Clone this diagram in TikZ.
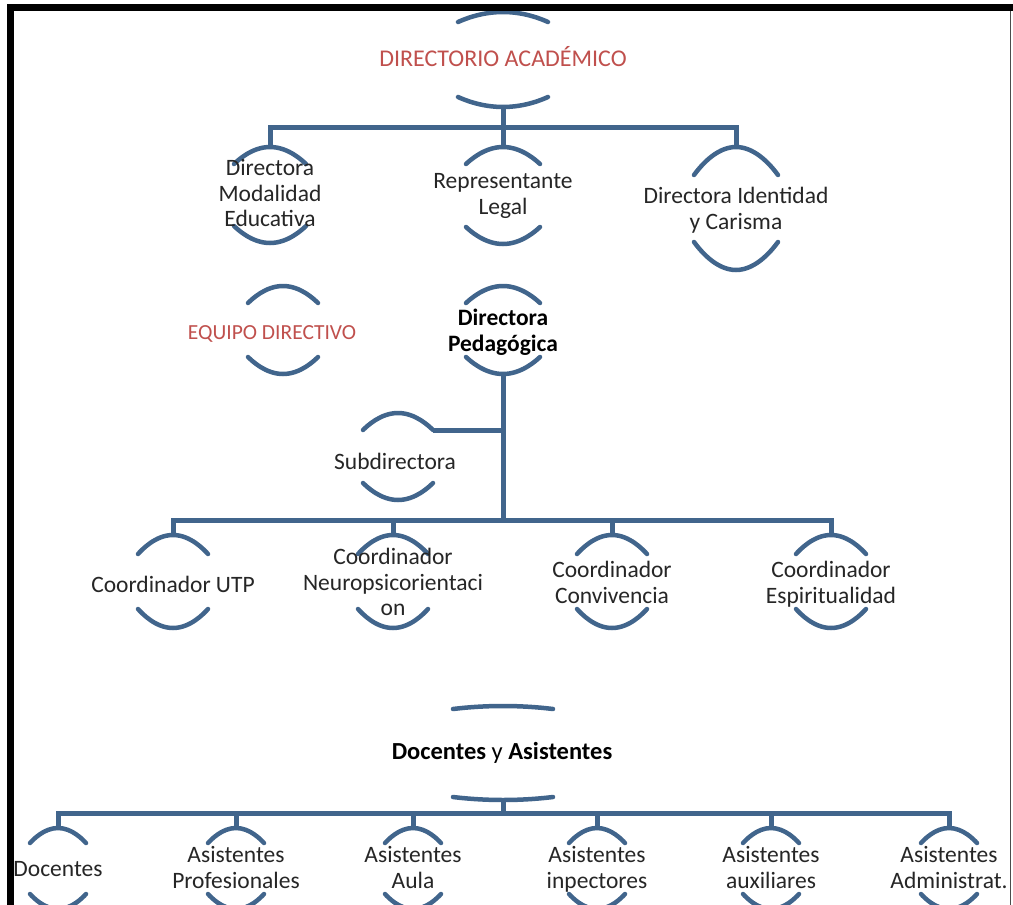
\documentclass[tikz,border=0pt]{standalone}
\usepackage{fontspec}
\setmainfont{Carlito}
\definecolor{linec}{RGB}{65,101,140}
\definecolor{redt}{RGB}{192,80,77}
\definecolor{txt}{RGB}{38,38,38}
\newcommand\nodearcs[6]{% name, x, ytop, ybot, halfwidth, sag
  \coordinate (#1t) at (#2,#3);
  \coordinate (#1b) at (#2,#4);
  \draw[arcline] ([shift={(-#5,#6)}]#1t) parabola bend (#1t) ([shift={(#5,#6)}]#1t);
  \draw[arcline] ([shift={(-#5,-#6)}]#1b) parabola bend (#1b) ([shift={(#5,-#6)}]#1b);
}
\tikzset{
  arcline/.style={draw=linec, line width=4.5pt, line cap=round},
  conn/.style={draw=linec, line width=5pt, line join=miter},
  lbl/.style={align=center, inner sep=0pt, text=txt, font=\fontsize{23.5}{25.5}\selectfont,
    execute at begin node=\strut, execute at end node=\strut},
  redlbl/.style={lbl, text=redt},
  boldlbl/.style={lbl, text=black, font=\fontsize{23.5}{25.5}\selectfont\bfseries},
}
\begin{document}
\begin{tikzpicture}[x=1pt,y=-1pt]
\useasboundingbox (0,0) rectangle (1013,905);
\fill[white] (0,0) rectangle (1013,905);

% arcs of each member
\nodearcs{dir}{503}{12}{107}{45}{10}
\nodearcs{mod}{270}{147}{243}{36}{17}
\nodearcs{rep}{503}{147}{244}{37}{17}
\nodearcs{ide}{736}{147}{270}{42}{28}
\nodearcs{equ}{283}{286}{374}{35}{17}
\nodearcs{ped}{503}{286}{374}{37}{17}
\nodearcs{sub}{398}{413}{500}{35}{17}
\nodearcs{utp}{173}{535}{628}{35}{19}
\nodearcs{neu}{393}{535}{628}{35}{19}
\nodearcs{con}{612}{535}{628}{35}{19}
\nodearcs{esp}{831}{535}{628}{35}{19}
\nodearcs{dya}{503}{706}{800}{50}{3}
\nodearcs{doc}{58}{828}{909}{28}{15}
\nodearcs{apr}{236}{828}{909}{28}{15}
\nodearcs{aau}{413}{828}{909}{28}{15}
\nodearcs{ain}{597}{828}{909}{28}{15}
\nodearcs{aux}{771}{828}{909}{28}{15}
\nodearcs{adm}{949}{828}{909}{28}{15}

% texts
\node[redlbl, font=\fontsize{24}{25.5}\selectfont] (dirL) at (503,60) {DIRECTORIO ACADÉMICO};
\node[lbl] (modL) at (270,197) {Directora\\Modalidad\\Educativa};
\node[lbl] (repL) at (503,198) {Representante\\Legal};
\node[lbl] (ideL) at (736,212) {Directora Identidad\\y Carisma};
\node[redlbl, font=\fontsize{21.5}{25.5}\selectfont] (equL) at (272,334) {EQUIPO DIRECTIVO};
\node[boldlbl] (pedL) at (503,334) {Directora\\Pedagógica};
\node[lbl] (subL) at (395,464) {Subdirectora};
\node[lbl] (utpL) at (173,587) {Coordinador UTP};
\node[lbl] (neuL) at (393,586) {Coordinador\\Neuropsicorientaci\\on};
\node[lbl] (conL) at (612,586) {Coordinador\\Convivencia};
\node[lbl] (espL) at (831,586) {Coordinador\\Espiritualidad};
\node[lbl, text=black, font=\fontsize{24.5}{25.5}\selectfont] (dyaL) at (502,754) {\textbf{Docentes} y \textbf{Asistentes}};
\node[lbl] (docL) at (58,871) {Docentes};
\node[lbl] (aprL) at (236,871) {Asistentes\\Profesionales};
\node[lbl] (aauL) at (413,871) {Asistentes\\Aula};
\node[lbl] (ainL) at (597,871) {Asistentes\\inpectores};
\node[lbl] (auxL) at (771,871) {Asistentes\\auxiliares};
\node[lbl] (admL) at (949,871) {Asistentes\\Administrat.};

% connectors
\coordinate (bar1) at (503,127);
\coordinate (bar2) at (503,520);
\coordinate (bar3) at (503,813);
\coordinate (subr) at (433,430);
\draw[conn] (dirb) -- (rept);
\draw[conn] (modt) |- (bar1) -| (idet);
\draw[conn] (pedb) -- (bar2);
\draw[conn] (subr) -- (subr -| pedb);
\draw[conn] (utpt) |- (bar2) -| (espt);
\draw[conn] (neut) -- (neut |- bar2);
\draw[conn] (cont) -- (cont |- bar2);
\draw[conn] (dyab) -- (bar3);
\draw[conn] (doct) |- (bar3) -| (admt);
\draw[conn] (aprt) -- (aprt |- bar3);
\draw[conn] (aaut) -- (aaut |- bar3);
\draw[conn] (aint) -- (aint |- bar3);
\draw[conn] (auxt) -- (auxt |- bar3);

% frame
\fill[black] (7,4) rectangle (1013,11);
\fill[black] (7,4) rectangle (14,905);
\draw[line width=1.5pt, black!70] (1010.5,11) -- (1010.5,905);
\end{tikzpicture}
\end{document}
